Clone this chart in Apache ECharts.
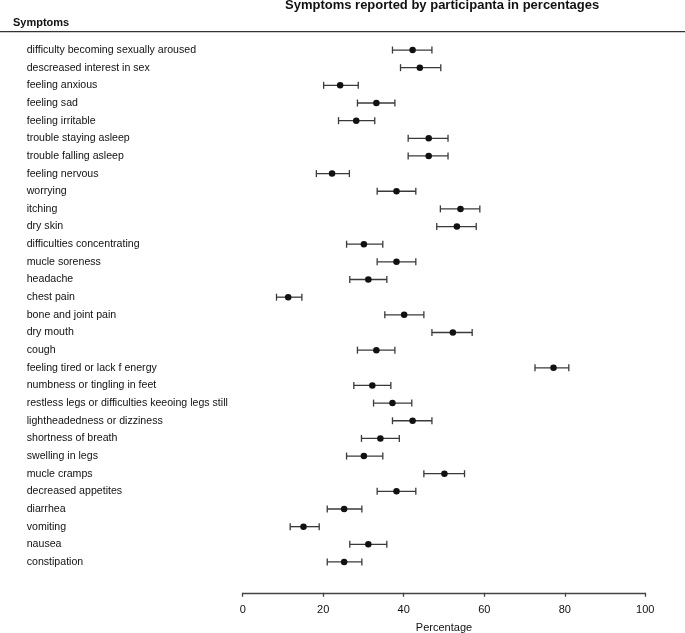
<!DOCTYPE html>
<html>
<head>
<meta charset="utf-8">
<script src="https://cdn.jsdelivr.net/npm/echarts@6/dist/echarts.min.js"></script>
<style>html,body{margin:0;padding:0;background:#fff;}#c{width:685px;height:633px;}</style>
</head>
<body>
<div id="c"></div>
<script>
var symptoms = [
  "difficulty becoming sexually aroused",
  "descreased interest in sex",
  "feeling anxious",
  "feeling sad",
  "feeling irritable",
  "trouble staying asleep",
  "trouble falling asleep",
  "feeling nervous",
  "worrying",
  "itching",
  "dry skin",
  "difficulties concentrating",
  "mucle soreness",
  "headache",
  "chest pain",
  "bone and joint pain",
  "dry mouth",
  "cough",
  "feeling tired or lack f energy",
  "numbness or tingling in feet",
  "restless legs or difficulties keeoing legs still",
  "lightheadedness or dizziness",
  "shortness of breath",
  "swelling in legs",
  "mucle cramps",
  "decreased appetites",
  "diarrhea",
  "vomiting",
  "nausea",
  "constipation"
];
var percent = [42.2, 44.0, 24.2, 33.2, 28.2, 46.2, 46.2, 22.2, 38.2, 54.1, 53.2, 30.1, 38.2, 31.2, 11.3, 40.1, 52.2, 33.2, 77.2, 32.2, 37.2, 42.2, 34.2, 30.1, 50.1, 38.2, 25.2, 15.1, 31.2, 25.2];
var lower   = [37.2, 39.2, 20.1, 28.5, 23.8, 41.1, 41.1, 18.3, 33.4, 49.1, 48.2, 25.8, 33.4, 26.6,  8.4, 35.3, 47.0, 28.5, 72.6, 27.6, 32.5, 37.2, 29.5, 25.8, 45.0, 33.4, 21.0, 11.8, 26.6, 21.0];
var upper   = [47.0, 49.2, 28.7, 37.8, 32.8, 51.0, 51.0, 26.5, 43.0, 58.9, 58.0, 34.8, 43.0, 35.8, 14.7, 45.0, 57.0, 37.8, 81.0, 36.8, 42.0, 47.0, 38.9, 34.8, 55.1, 43.0, 29.6, 19.0, 35.8, 29.6];
var xTicks = [0, 20, 40, 60, 80, 100];

var chart = echarts.init(document.getElementById('c'), null, {renderer: 'canvas'});
var font = '"Liberation Sans", Arial, Helvetica, sans-serif';

var errData = symptoms.map(function (s, i) { return [i, lower[i], upper[i]]; });
var ptData = symptoms.map(function (s, i) { return [percent[i], s]; });

chart.setOption({
  animation: false,
  backgroundColor: '#ffffff',
  textStyle: {fontFamily: font},
  title: [
    {text: 'Symptoms reported by participanta in percentages', left: 285, top: -1, padding: 0,
     textStyle: {fontFamily: font, fontSize: 13, fontWeight: 'bold', color: '#111'}},
    {text: 'Symptoms', left: 13, top: 17, padding: 0,
     textStyle: {fontFamily: font, fontSize: 11, fontWeight: 'bold', color: '#111'}}
  ],
  graphic: [
    {type: 'line', shape: {x1: 0, y1: 31.7, x2: 685, y2: 31.7}, style: {stroke: '#333', lineWidth: 1.3}}
  ],
  grid: {left: 242.7, right: 39.7, top: 41.2, bottom: 62.2, containLabel: false, outerBoundsMode: 'none'},
  xAxis: {
    type: 'value', min: 0, max: 100, interval: 20,
    offset: 22,
    name: 'Percentage', nameLocation: 'middle', nameGap: 30,
    nameTextStyle: {fontFamily: font, fontSize: 11, color: '#111'},
    axisLine: {show: true, lineStyle: {color: '#444', width: 1.3}},
    axisTick: {show: true, length: 4, lineStyle: {color: '#444', width: 1.3}},
    axisLabel: {fontFamily: font, fontSize: 11, color: '#111', margin: 12,
      formatter: function (v) { return xTicks.indexOf(v) >= 0 ? String(v) : ''; }},
    splitLine: {show: false}
  },
  yAxis: {
    type: 'category', data: symptoms, inverse: true,
    axisLine: {show: false}, axisTick: {show: false},
    axisLabel: {fontFamily: font, fontSize: 10.6, color: '#111', align: 'left', margin: 216, interval: 0},
    splitLine: {show: false}
  },
  series: [
    {
      type: 'custom',
      data: errData,
      renderItem: function (params, api) {
        var idx = api.value(0);
        var lo = api.coord([api.value(1), idx]);
        var hi = api.coord([api.value(2), idx]);
        var h = 3.5;
        var st = {stroke: '#3a3a3a', lineWidth: 1.3};
        return {
          type: 'group',
          children: [
            {type: 'line', shape: {x1: lo[0], y1: lo[1], x2: hi[0], y2: hi[1]}, style: st},
            {type: 'line', shape: {x1: lo[0], y1: lo[1] - h, x2: lo[0], y2: lo[1] + h}, style: st},
            {type: 'line', shape: {x1: hi[0], y1: hi[1] - h, x2: hi[0], y2: hi[1] + h}, style: st}
          ]
        };
      },
      encode: {x: [1, 2], y: 0},
      z: 2
    },
    {
      type: 'scatter',
      data: ptData,
      symbol: 'circle', symbolSize: 6.5,
      itemStyle: {color: '#111', opacity: 1},
      z: 3
    }
  ]
});
</script>
</body>
</html>
